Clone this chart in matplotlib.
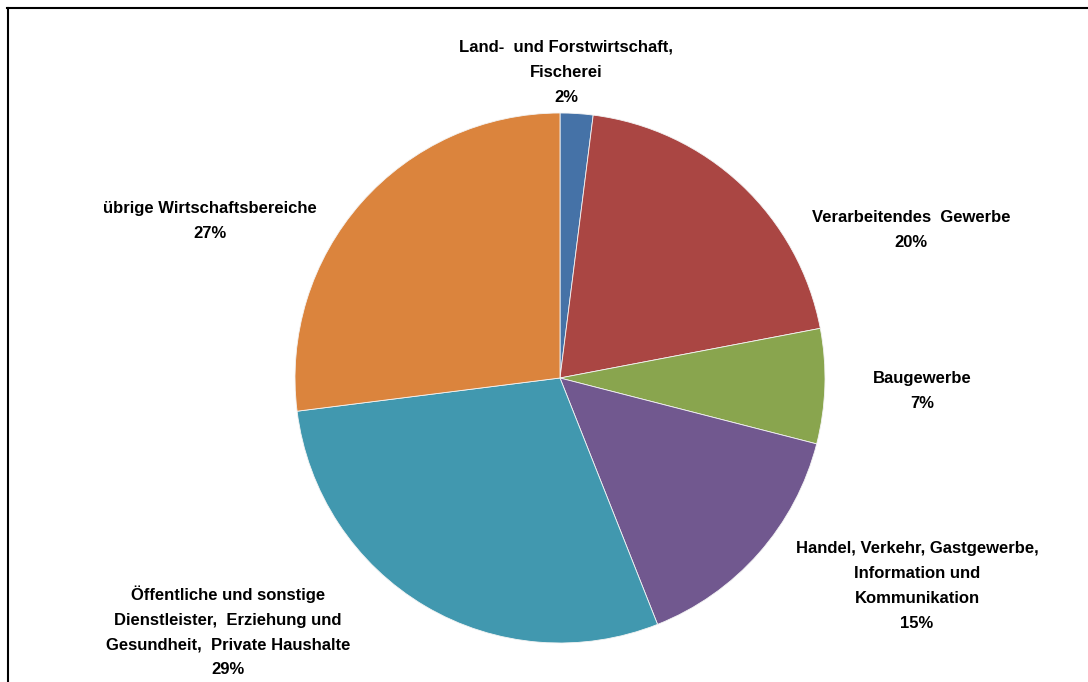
import matplotlib
matplotlib.use("Agg")
import matplotlib.pyplot as plt
from matplotlib.lines import Line2D

# employment share by sector
sectors = [
    "Land-  und Forstwirtschaft,\nFischerei",
    "Verarbeitendes  Gewerbe",
    "Baugewerbe",
    "Handel, Verkehr, Gastgewerbe,\nInformation und\nKommunikation",
    "Öffentliche und sonstige\nDienstleister,  Erziehung und\nGesundheit,  Private Haushalte",
    "übrige Wirtschaftsbereiche",
]
shares = [2, 20, 7, 15, 29, 27]
colors = ["#4572A7", "#AA4643", "#89A54E", "#71588F", "#4198AF", "#DB843D"]

# label anchor (pixel x, pixel y of top of text, from top)
label_pos = [(566, 40), (911, 210), (922, 371), (917, 541), (228, 585), (210, 201)]

W, H = 1088, 682
fig = plt.figure(figsize=(W / 100, H / 100), dpi=100)
ax = fig.add_axes([0, 0, 1, 1])

ax.pie(shares, colors=colors, startangle=90, counterclock=False,
       center=(560, H - 378), radius=265, frame=True,
       wedgeprops=dict(linewidth=0.6, edgecolor="#f4f4f4"))
ax.set_xlim(0, W)
ax.set_ylim(0, H)
ax.set_aspect("equal")
ax.axis("off")

font = ["Liberation Sans Narrow", "Liberation Sans", "DejaVu Sans"]
for name, val, (x, y) in zip(sectors, shares, label_pos):
    ax.text(x, H - y, f"{name}\n{val}%", ha="center", va="top",
            fontsize=12, fontweight="bold", family=font, color="black",
            linespacing=1.83)

# chart frame (top and left edges)
fig.add_artist(Line2D([7 / W, 1], [1 - 8 / H, 1 - 8 / H], color="black", lw=1.5))
fig.add_artist(Line2D([7.5 / W, 7.5 / W], [0, 1 - 8 / H], color="black", lw=1.5))

fig.savefig("out.png", dpi=100, facecolor="white")
